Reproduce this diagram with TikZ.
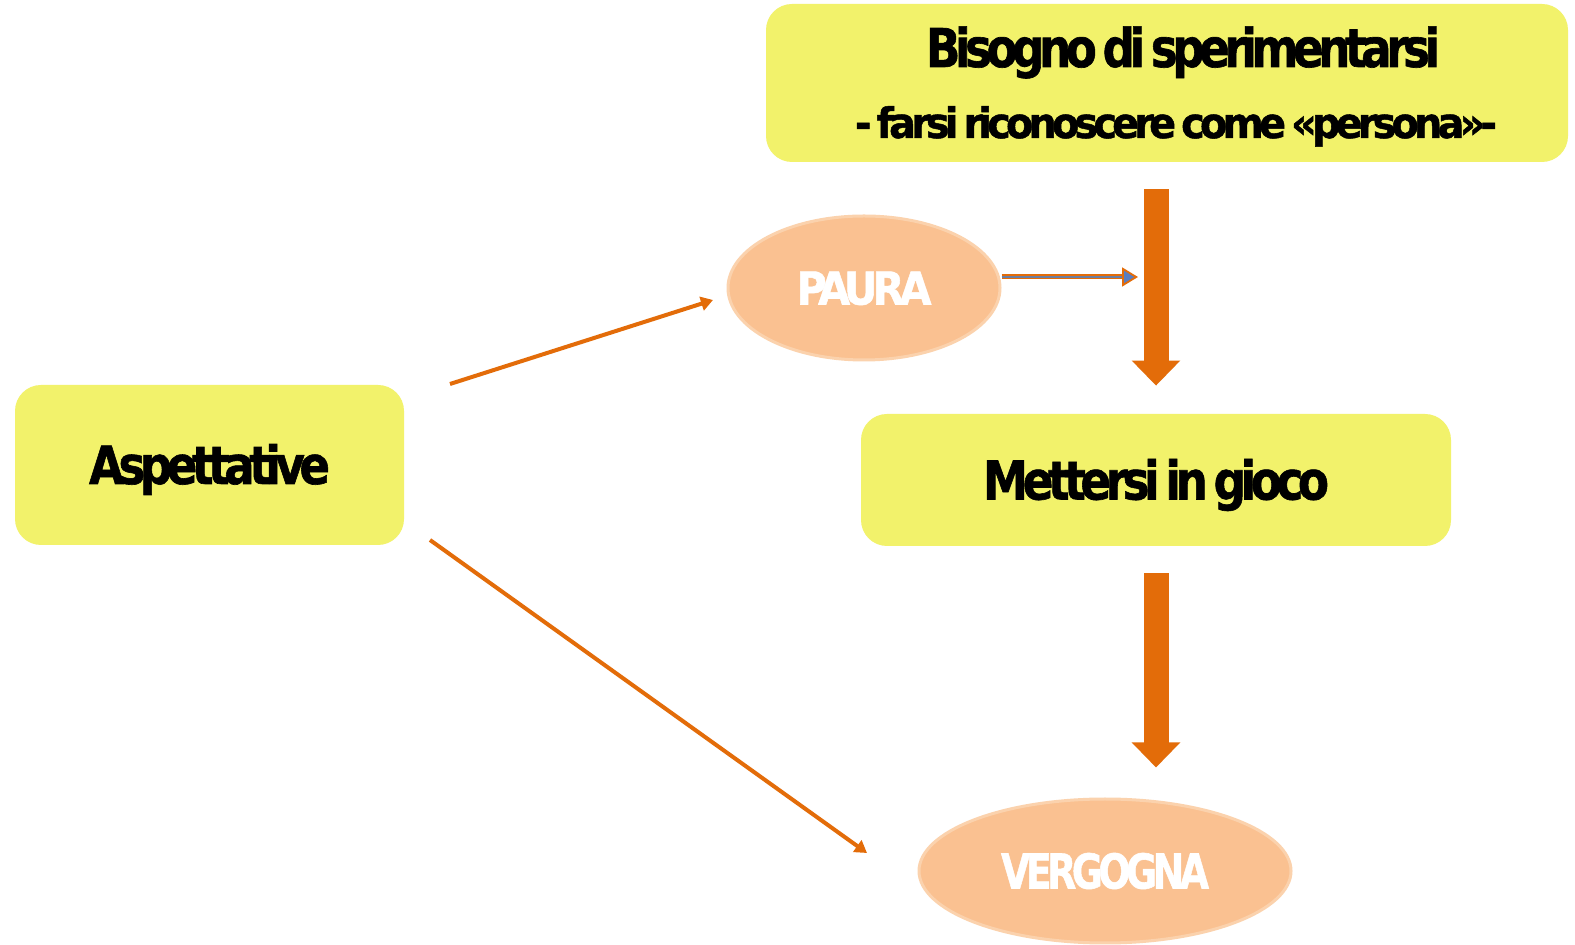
\documentclass[tikz,border=0pt]{standalone}
\usepackage{fontspec}
\setmainfont{DejaVu Sans}[LetterSpace=-12, BoldFeatures={FakeBold=1.2}]
\usetikzlibrary{arrows.meta,shapes.geometric}
\definecolor{boxyellow}{HTML}{F2F26B}
\definecolor{arrorange}{HTML}{E36C09}
\definecolor{ellfill}{HTML}{FAC191}
\definecolor{elldraw}{HTML}{FBD2AD}
\definecolor{tipblue}{HTML}{5A7EC0}
\newsavebox\fitbox
\newcommand\fitx[2]{\sbox\fitbox{#2}\pgfmathsetmacro\fitfac{#1/\the\wd\fitbox}\scalebox{\fitfac}[1]{\usebox\fitbox}}
\tikzset{
  ybox/.style={rectangle, rounded corners=13pt, fill=boxyellow, draw=none, inner sep=0pt, text depth=0pt},
  oval/.style={ellipse, fill=ellfill, draw=elldraw, line width=1.5pt, inner sep=0pt, text=white, text depth=0pt},
  bigarrow/.style={draw=arrorange, line width=12.5pt, -{Triangle[width=23.5pt,length=12.5pt]}},
  thinarrow/.style={draw=arrorange, line width=2pt, -{Triangle[width=7pt,length=6pt]}},
  smallarrow/.style={draw=arrorange, line width=0.9pt, double=tipblue!55!gray, double distance=0.7pt,
     -{Triangle[width=9.5pt,length=8pt,fill=tipblue,line width=0.9pt]}},
}
\begin{document}
\begin{tikzpicture}[x=0.5pt,y=-0.5pt]
\fill[white] (0,0) rectangle (1575,945);
\useasboundingbox (0,0) rectangle (1575,945);
% boxes
\node[ybox, minimum width=401pt, minimum height=79pt] (need) at (1167,83) {};
\node[anchor=base] (need1) at (1183,67) {\fitx{257}{\fontsize{26.7}{30}\selectfont\bfseries Bisogno\hspace{-0.1em} di\hspace{-0.1em} sperimentarsi}};
\node[anchor=base] (need2) at (1176,138) {\fitx{321}{\fontsize{21}{25}\selectfont\bfseries -\hspace{-0.1em} farsi\hspace{-0.1em} riconoscere\hspace{-0.1em} come\hspace{-0.1em} «persona»-}};
\node[ybox, minimum width=194.5pt, minimum height=80pt, text height=19pt] (asp) at (209.5,465)
  {\fitx{120.5}{\fontsize{26.3}{30}\selectfont\bfseries Aspettative}};
\node[ybox, minimum width=295pt, minimum height=66pt, text height=19.5pt] (mett) at (1156,480)
  {\fitx{173}{\fontsize{26.7}{30}\selectfont\bfseries Mettersi\hspace{-0.1em} in\hspace{-0.1em} gioco}};
% ovals
\node[oval, minimum width=136pt, minimum height=72pt, text height=16.5pt] (paura) at (864,288)
  {\fitx{67.5}{\fontsize{22.6}{26}\selectfont\bfseries PAURA}};
\node[oval, minimum width=186pt, minimum height=72pt, text height=17.5pt] (verg) at (1105,871)
  {\fitx{104}{\fontsize{24}{28}\selectfont\bfseries VERGOGNA}};
% free ends
\coordinate (a1s) at (450,384);
\coordinate (a1e) at (713,300);
\coordinate (a2s) at (430,540);
\coordinate (a2e) at (867,853);
\coordinate (pend) at (1138,277);
% connectors
\draw[bigarrow, shorten <=13.5pt, shorten >=14pt] (need.south -| mett.north) -- (mett.north);
\draw[bigarrow, shorten <=13.5pt, shorten >=15pt] (mett.south) -- (mett.south |- verg.north);
\draw[thinarrow] (a1s) -- (a1e);
\draw[thinarrow] (a2s) -- (a2e);
\draw[smallarrow] (paura.east |- pend) -- (pend);
\end{tikzpicture}
\end{document}
